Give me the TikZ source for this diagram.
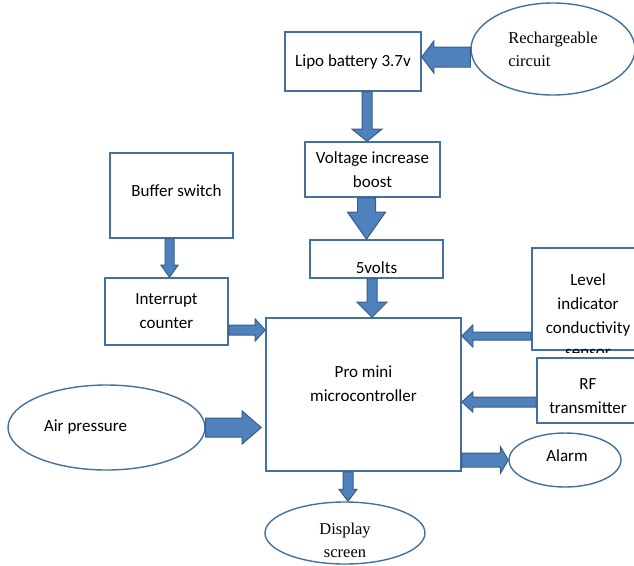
\documentclass[tikz,border=0pt]{standalone}
\usepackage{fontspec}
\setmainfont{Liberation Serif}
\setsansfont{Carlito}
\usetikzlibrary{calc,shapes.geometric}
\definecolor{edge}{HTML}{41719C}
\definecolor{arrfill}{HTML}{4F81BD}
\definecolor{arrline}{HTML}{385D8A}

\tikzset{
  block/.style={draw=edge, line width=1.6pt, rectangle, inner sep=0pt, align=center,
    font=\sffamily\fontsize{17}{24}\selectfont},
  blob/.style={draw=edge, line width=1.4pt, ellipse, inner sep=0pt, align=center,
    font=\sffamily\fontsize{17}{24}\selectfont},
  tag/.style={inner sep=0pt, align=center, font=\sffamily\fontsize{17}{24}\selectfont},
  serif/.style={font=\rmfamily\fontsize{16.5}{23}\selectfont},
  fatarr/.style={fill=arrfill, draw=arrline, line width=1pt, line join=miter},
}

% block arrow: from, to, half shaft, half head, head length
\newcommand{\fatarrow}[5]{%
  \path (#1) coordinate (fa-s) (#2) coordinate (fa-e);
  \path ($(fa-e)!#5pt!(fa-s)$) coordinate (fa-h);
  \draw[fatarr] ($(fa-s)!#3pt!90:(fa-e)$) -- ($(fa-h)!#3pt!90:(fa-e)$)
    -- ($(fa-h)!#4pt!90:(fa-e)$) -- (fa-e) -- ($(fa-h)!#4pt!-90:(fa-e)$)
    -- ($(fa-h)!#3pt!-90:(fa-e)$) -- ($(fa-s)!#3pt!-90:(fa-e)$) -- cycle;
}

\begin{document}
\begin{tikzpicture}[x=1pt, y=-1pt]
  \clip (0,0) rectangle (634,565);

  % Alimentare
  \node[block, minimum width=136, minimum height=59] (batt) at (353,61.5) {Lipo battery 3.7v};
  \node[blob, serif, align=left, minimum width=164, minimum height=92] (rech) at (553,49)
    {Rechargeable\\circuit};
  \node[block, minimum width=135, minimum height=55] (boost) at (372.5,169.5)
    {Voltage increase\\boost};
  \node[block, minimum width=133, minimum height=38,
    label={[tag, yshift=-9pt]center:5volts}] (five) at (376.5,259) {};

  % Intrari stanga
  \node[block, minimum width=123, minimum height=85,
    label={[tag, xshift=5pt, yshift=5pt]center:Buffer switch}] (buffer) at (171.5,195.5) {};
  \node[block, minimum width=123, minimum height=67] (intr) at (166.5,311.5) {Interrupt\\counter};
  \node[blob, minimum width=197, minimum height=85,
    label={[tag, xshift=-21pt]center:Air pressure}] (air) at (106.5,427.5) {};

  % Controler
  \node[block, minimum width=195, minimum height=153,
    label={[tag, yshift=11pt]center:Pro mini\\microcontroller}] (pro) at (363.5,394.5) {};

  % Dreapta
  \node[block, minimum width=112, minimum height=102] (level) at (588,299) {};
  \begin{scope}
    \clip (level.north west) rectangle ($(level.south east)+(0,2)$);
    \node[tag] (leveltxt) at ($(level)+(0,17)$) {Level\\indicator\\conductivity\\sensor};
  \end{scope}
  \node[block, minimum width=102, minimum height=65,
    label={[tag, yshift=-6pt]center:RF\\transmitter}] (rf) at (588,390.5) {};
  \node[blob, minimum width=112, minimum height=54,
    label={[tag, xshift=2pt, yshift=4pt]center:Alarm}] (alarm) at (565,460) {};
  \node[blob, minimum width=160, minimum height=62,
    label={[tag, serif, yshift=-7.5pt]center:Display\\screen}] (disp) at (345,533) {};

  % Sageti
  \fatarrow{$(rech.west)+(0,8)$}{$(batt.east)+(0,-4.5)$}{10}{16}{12}
  \fatarrow{$(batt.south)+(14,0)$}{$(boost.north)+(-5.5,0)$}{5}{15}{12}
  \fatarrow{$(boost.south)+(-6,0)$}{$(five.north)+(-10,0)$}{9}{19}{27}
  \fatarrow{$(five.south)+(-4.5,0)$}{$(pro.north)+(8.5,0)$}{5}{15}{15}
  \fatarrow{$(buffer.south)+(-2,0)$}{$(intr.north)+(3,0)$}{4.5}{8.5}{12}
  \fatarrow{$(intr.east)+(0,18.5)$}{$(pro.west)+(0,-64.5)$}{5}{11}{10}
  \fatarrow{$(level.west)+(0,37)$}{$(pro.east)+(0,-58.5)$}{4}{11}{11}
  \fatarrow{$(rf.west)+(0,11.5)$}{$(pro.east)+(0,7.5)$}{5}{10}{11}
  \fatarrow{air.east}{$(pro.west)+(-4,33)$}{9.5}{16.5}{19}
  \fatarrow{$(pro.east)+(0,65.5)$}{alarm.west}{7}{13.5}{8}
  \fatarrow{$(pro.south)+(-15.5,0)$}{$(disp.north)+(3,0)$}{5}{9}{12}
\end{tikzpicture}
\end{document}
